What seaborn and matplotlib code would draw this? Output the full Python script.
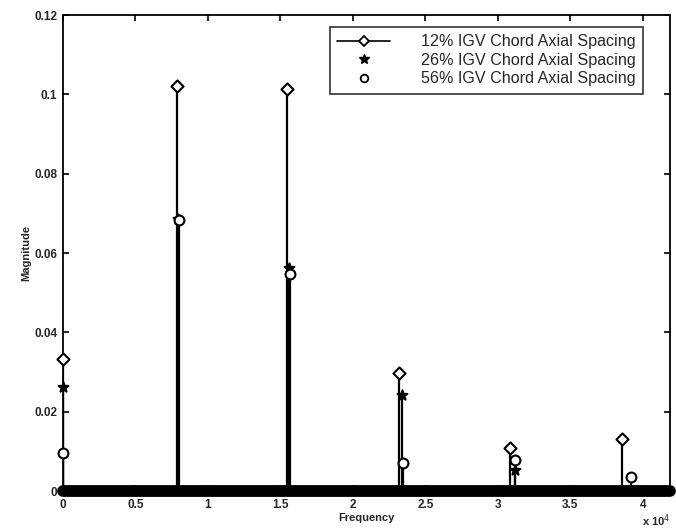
import numpy as np
import pandas as pd
import matplotlib
matplotlib.use("Agg")
import matplotlib.pyplot as plt
from matplotlib.lines import Line2D
import seaborn as sns

# ---- data ----
series_names = ["12% IGV Chord Axial Spacing",
                "26% IGV Chord Axial Spacing",
                "56% IGV Chord Axial Spacing"]
freq_12 = [0, 7850, 15430, 23150, 30800, 38570]
mag_12 = [0.0333, 0.1022, 0.1014, 0.0297, 0.0109, 0.0131]
freq_26 = [0, 7950, 15600, 23400, 31150]
mag_26 = [0.0262, 0.0685, 0.0562, 0.0242, 0.0053]
freq_56 = [0, 7980, 15650, 23450, 31200, 39200]
mag_56 = [0.0096, 0.0682, 0.0546, 0.0071, 0.0079, 0.0035]
x_ticks = [0, 5000, 10000, 15000, 20000, 25000, 30000, 35000, 40000]
x_ticklabels = ["0", "0.5", "1", "1.5", "2", "2.5", "3", "3.5", "4"]
y_ticks = [0, 0.02, 0.04, 0.06, 0.08, 0.1, 0.12]
y_ticklabels = ["0", "0.02", "0.04", "0.06", "0.08", "0.1", "0.12"]

df = pd.concat([
    pd.DataFrame({"Frequency": freq_12, "Magnitude": mag_12, "Series": series_names[0]}),
    pd.DataFrame({"Frequency": freq_26, "Magnitude": mag_26, "Series": series_names[1]}),
    pd.DataFrame({"Frequency": freq_56, "Magnitude": mag_56, "Series": series_names[2]}),
], ignore_index=True)

sns.set_theme(style="white")
plt.rcParams["font.family"] = ["Liberation Sans", "DejaVu Sans"]
plt.rcParams["xtick.direction"] = "in"
plt.rcParams["ytick.direction"] = "in"

fig = plt.figure(figsize=(6.76, 5.30), dpi=100)
ax = fig.add_axes([63 / 676, 1 - 491 / 530, (670 - 63) / 676, (491 - 15) / 530])

# stems
for name, sub in df.groupby("Series"):
    ax.vlines(sub["Frequency"], 0, sub["Magnitude"], colors="black", linewidth=1.6, zorder=2)

# thick baseline formed by zero-valued bins
ax.axhline(0, color="black", linewidth=8.5, solid_capstyle="round", clip_on=False, zorder=3)

markers = {series_names[0]: "D", series_names[1]: "*", series_names[2]: "o"}
sizes = {series_names[0]: 38, series_names[1]: 55, series_names[2]: 50}
for name in series_names:
    sub = df[df["Series"] == name]
    filled = name == series_names[1]
    sns.scatterplot(data=sub, x="Frequency", y="Magnitude", ax=ax,
                    marker=markers[name], s=sizes[name],
                    facecolor="black" if filled else "white",
                    edgecolor="black", linewidth=1.5, zorder=4, legend=False,
                    clip_on=False)

ax.set_xlim(0, 41870)
ax.set_ylim(0, 0.12)
ax.set_xticks(x_ticks)
ax.set_xticklabels(x_ticklabels, fontsize=8.5, fontweight="bold")
ax.set_yticks(y_ticks)
ax.set_yticklabels(y_ticklabels, fontsize=8.5, fontweight="bold")
ax.tick_params(axis="both", which="both", length=4, width=1.2, color="black",
               top=True, right=True, bottom=True, left=True)
ax.tick_params(axis="x", pad=6)
ax.tick_params(axis="y", pad=4)
for sp in ax.spines.values():
    sp.set_color("black")
    sp.set_linewidth(1.3)
ax.set_xlabel("Frequency", fontsize=8, fontweight="bold", labelpad=1)
ax.set_ylabel("Magnitude", fontsize=8, fontweight="bold", labelpad=2)
ax.text(1.0, -0.045, r"x 10$^{4}$", transform=ax.transAxes, ha="right", va="top",
        fontsize=8, fontweight="bold")

handles = [
    Line2D([0], [0], color="black", lw=1.2, marker="D", markersize=5,
           markerfacecolor="white", markeredgecolor="black", markeredgewidth=1.3),
    Line2D([0], [0], color="none", marker="*", markersize=7,
           markerfacecolor="black", markeredgecolor="black"),
    Line2D([0], [0], color="none", marker="o", markersize=5.5,
           markerfacecolor="white", markeredgecolor="black", markeredgewidth=1.3),
]
leg = ax.legend(handles, series_names, loc="upper right",
                bbox_to_anchor=((643 - 63) / 607, (491 - 27) / 476),
                fontsize=11.6, frameon=True, fancybox=False, borderpad=0.45,
                handlelength=3.3, handletextpad=1.9, labelspacing=0.22,
                borderaxespad=0)
leg.get_frame().set_edgecolor("black")
leg.get_frame().set_linewidth(1.2)

fig.savefig("out.png", dpi=100, facecolor="white")
